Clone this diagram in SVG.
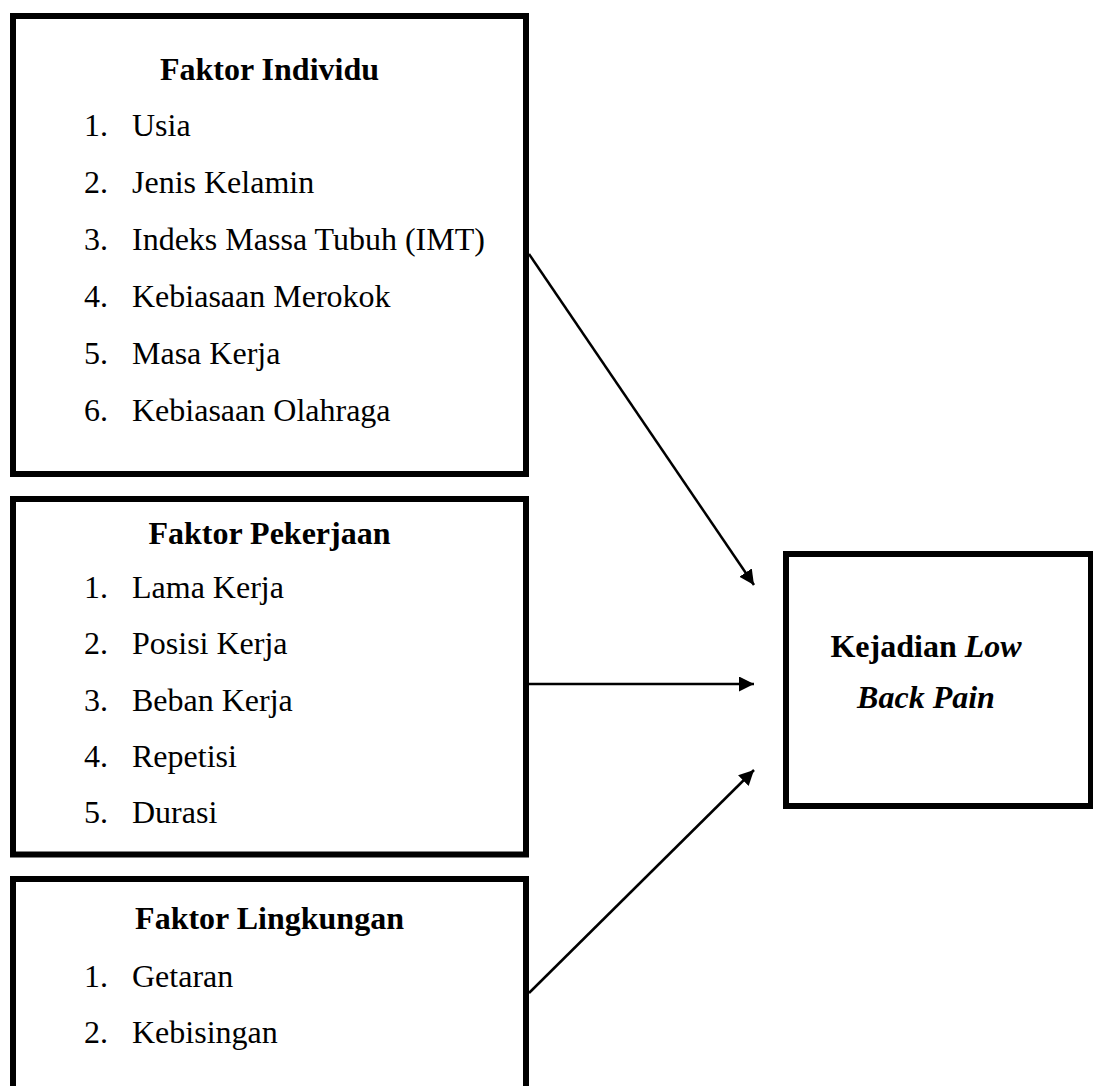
<svg xmlns="http://www.w3.org/2000/svg" width="1093" height="1086" viewBox="0 0 1093 1086">
  <style>
    .box { fill: #ffffff; stroke: #000000; stroke-width: 6; }
    .title { font-family: "Liberation Serif", "Times New Roman", serif; font-size: 32px; font-weight: bold; fill: #000; text-anchor: middle; }
    .item { font-family: "Liberation Serif", "Times New Roman", serif; font-size: 32px; fill: #000; }
    .conn { stroke: #000; stroke-width: 2.5; fill: none; marker-end: url(#arrow); }
  </style>
  <defs>
    <marker id="arrow" markerUnits="userSpaceOnUse" markerWidth="16" markerHeight="16" viewBox="0 0 16 16" refX="15" refY="7.5" orient="auto">
      <path d="M0,0 L15,7.5 L0,15 Z" fill="#000"/>
    </marker>
  </defs>
  <rect width="1093" height="1086" fill="#ffffff"/>

  <g id="faktor-individu">
    <rect class="box" x="13" y="16" width="513" height="458"/>
    <text class="title" x="269.5" y="80">Faktor Individu</text>
    <text class="item" x="84" y="136">1.</text><text class="item" x="132" y="136">Usia</text>
    <text class="item" x="84" y="193">2.</text><text class="item" x="132" y="193">Jenis Kelamin</text>
    <text class="item" x="84" y="250">3.</text><text class="item" x="132" y="250">Indeks Massa Tubuh (IMT)</text>
    <text class="item" x="84" y="307">4.</text><text class="item" x="132" y="307">Kebiasaan Merokok</text>
    <text class="item" x="84" y="364">5.</text><text class="item" x="132" y="364">Masa Kerja</text>
    <text class="item" x="84" y="421">6.</text><text class="item" x="132" y="421">Kebiasaan Olahraga</text>
  </g>

  <g id="faktor-pekerjaan">
    <rect class="box" x="13" y="499" width="513" height="355.5"/>
    <text class="title" x="269.5" y="544">Faktor Pekerjaan</text>
    <text class="item" x="84" y="598">1.</text><text class="item" x="132" y="598">Lama Kerja</text>
    <text class="item" x="84" y="654">2.</text><text class="item" x="132" y="654">Posisi Kerja</text>
    <text class="item" x="84" y="711">3.</text><text class="item" x="132" y="711">Beban Kerja</text>
    <text class="item" x="84" y="767">4.</text><text class="item" x="132" y="767">Repetisi</text>
    <text class="item" x="84" y="823">5.</text><text class="item" x="132" y="823">Durasi</text>
  </g>

  <g id="faktor-lingkungan">
    <rect class="box" x="13" y="879" width="513" height="225"/>
    <text class="title" x="269.5" y="929">Faktor Lingkungan</text>
    <text class="item" x="84" y="987">1.</text><text class="item" x="132" y="987">Getaran</text>
    <text class="item" x="84" y="1043">2.</text><text class="item" x="132" y="1043">Kebisingan</text>
  </g>

  <g id="kejadian-lbp">
    <rect class="box" x="786" y="554" width="305" height="252"/>
    <text class="title" x="926" y="657">Kejadian <tspan font-style="italic">Low</tspan></text>
    <text class="title" x="926" y="708" font-style="italic">Back Pain</text>
  </g>

  <g id="connectors">
    <line class="conn" x1="529" y1="254" x2="754" y2="585"/>
    <line class="conn" x1="529" y1="684" x2="754" y2="684"/>
    <line class="conn" x1="529" y1="993" x2="754" y2="770"/>
  </g>
</svg>
